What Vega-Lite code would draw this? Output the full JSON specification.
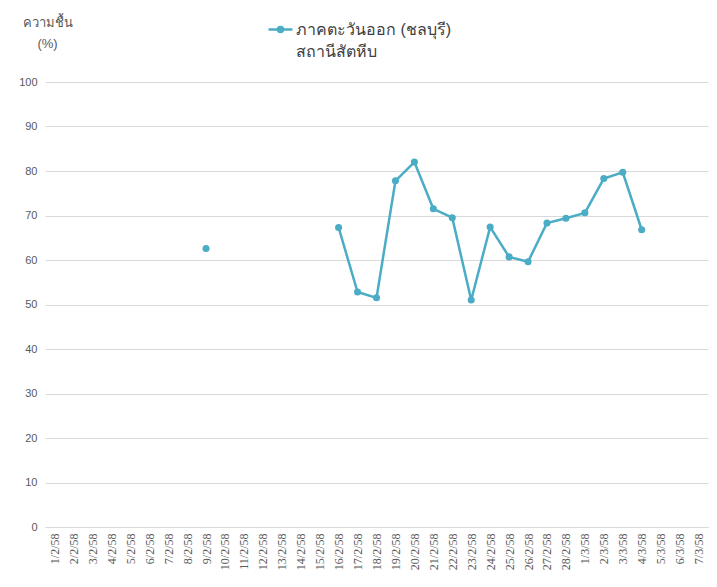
{
  "$schema": "https://vega.github.io/schema/vega-lite/v6.json",
  "autosize": "none",
  "width": 663,
  "height": 445,
  "padding": {"left": 45, "top": 82, "right": 9, "bottom": 60},
  "background": "white",
  "config": {
    "view": {"stroke": null},
    "font": "Liberation Sans",
    "style": {"guide-label": {"lineHeight": 22}}
  },
  "data": {
    "values": [
      {"date": "1/2/58", "series": "ภาคตะวันออก (ชลบุรี)|สถานีสัตหีบ", "rh": null},
      {"date": "2/2/58", "series": "ภาคตะวันออก (ชลบุรี)|สถานีสัตหีบ", "rh": null},
      {"date": "3/2/58", "series": "ภาคตะวันออก (ชลบุรี)|สถานีสัตหีบ", "rh": null},
      {"date": "4/2/58", "series": "ภาคตะวันออก (ชลบุรี)|สถานีสัตหีบ", "rh": null},
      {"date": "5/2/58", "series": "ภาคตะวันออก (ชลบุรี)|สถานีสัตหีบ", "rh": null},
      {"date": "6/2/58", "series": "ภาคตะวันออก (ชลบุรี)|สถานีสัตหีบ", "rh": null},
      {"date": "7/2/58", "series": "ภาคตะวันออก (ชลบุรี)|สถานีสัตหีบ", "rh": null},
      {"date": "8/2/58", "series": "ภาคตะวันออก (ชลบุรี)|สถานีสัตหีบ", "rh": null},
      {"date": "9/2/58", "series": "ภาคตะวันออก (ชลบุรี)|สถานีสัตหีบ", "rh": 62.6},
      {"date": "10/2/58", "series": "ภาคตะวันออก (ชลบุรี)|สถานีสัตหีบ", "rh": null},
      {"date": "11/2/58", "series": "ภาคตะวันออก (ชลบุรี)|สถานีสัตหีบ", "rh": null},
      {"date": "12/2/58", "series": "ภาคตะวันออก (ชลบุรี)|สถานีสัตหีบ", "rh": null},
      {"date": "13/2/58", "series": "ภาคตะวันออก (ชลบุรี)|สถานีสัตหีบ", "rh": null},
      {"date": "14/2/58", "series": "ภาคตะวันออก (ชลบุรี)|สถานีสัตหีบ", "rh": null},
      {"date": "15/2/58", "series": "ภาคตะวันออก (ชลบุรี)|สถานีสัตหีบ", "rh": null},
      {"date": "16/2/58", "series": "ภาคตะวันออก (ชลบุรี)|สถานีสัตหีบ", "rh": 67.3},
      {"date": "17/2/58", "series": "ภาคตะวันออก (ชลบุรี)|สถานีสัตหีบ", "rh": 52.8},
      {"date": "18/2/58", "series": "ภาคตะวันออก (ชลบุรี)|สถานีสัตหีบ", "rh": 51.5},
      {"date": "19/2/58", "series": "ภาคตะวันออก (ชลบุรี)|สถานีสัตหีบ", "rh": 77.8},
      {"date": "20/2/58", "series": "ภาคตะวันออก (ชลบุรี)|สถานีสัตหีบ", "rh": 82.0},
      {"date": "21/2/58", "series": "ภาคตะวันออก (ชลบุรี)|สถานีสัตหีบ", "rh": 71.5},
      {"date": "22/2/58", "series": "ภาคตะวันออก (ชลบุรี)|สถานีสัตหีบ", "rh": 69.5},
      {"date": "23/2/58", "series": "ภาคตะวันออก (ชลบุรี)|สถานีสัตหีบ", "rh": 51.0},
      {"date": "24/2/58", "series": "ภาคตะวันออก (ชลบุรี)|สถานีสัตหีบ", "rh": 67.4},
      {"date": "25/2/58", "series": "ภาคตะวันออก (ชลบุรี)|สถานีสัตหีบ", "rh": 60.7},
      {"date": "26/2/58", "series": "ภาคตะวันออก (ชลบุรี)|สถานีสัตหีบ", "rh": 59.6},
      {"date": "27/2/58", "series": "ภาคตะวันออก (ชลบุรี)|สถานีสัตหีบ", "rh": 68.3},
      {"date": "28/2/58", "series": "ภาคตะวันออก (ชลบุรี)|สถานีสัตหีบ", "rh": 69.4},
      {"date": "1/3/58", "series": "ภาคตะวันออก (ชลบุรี)|สถานีสัตหีบ", "rh": 70.6},
      {"date": "2/3/58", "series": "ภาคตะวันออก (ชลบุรี)|สถานีสัตหีบ", "rh": 78.3},
      {"date": "3/3/58", "series": "ภาคตะวันออก (ชลบุรี)|สถานีสัตหีบ", "rh": 79.7},
      {"date": "4/3/58", "series": "ภาคตะวันออก (ชลบุรี)|สถานีสัตหีบ", "rh": 66.8},
      {"date": "5/3/58", "series": "ภาคตะวันออก (ชลบุรี)|สถานีสัตหีบ", "rh": null},
      {"date": "6/3/58", "series": "ภาคตะวันออก (ชลบุรี)|สถานีสัตหีบ", "rh": null},
      {"date": "7/3/58", "series": "ภาคตะวันออก (ชลบุรี)|สถานีสัตหีบ", "rh": null}
    ]
  },
  "encoding": {
    "x": {
      "field": "date",
      "type": "ordinal",
      "sort": null,
      "scale": {"padding": 0.5},
      "axis": {
        "title": null,
        "labelAngle": -90,
        "labelFont": "Liberation Serif",
        "labelFontSize": 12,
        "labelColor": "#595959",
        "labelPadding": 6,
        "ticks": false,
        "domainColor": "#D9D9D9",
        "grid": false
      }
    },
    "y": {
      "field": "rh",
      "type": "quantitative",
      "scale": {"domain": [0, 100]},
      "axis": {
        "title": ["ความชื้น", "(%)"],
        "titleAngle": 0,
        "titleAlign": "center",
        "titleBaseline": "top",
        "titleX": 2,
        "titleY": -66,
        "titleFontSize": 13,
        "titleFontWeight": "normal",
        "titleColor": "#595959",
        "titleLineHeight": 21,
        "values": [0, 10, 20, 30, 40, 50, 60, 70, 80, 90, 100],
        "labelFontSize": 11,
        "labelColor": "#595959",
        "labelPadding": 8,
        "ticks": false,
        "domain": false,
        "gridColor": "#D9D9D9",
        "gridWidth": 1
      }
    },
    "color": {
      "field": "series",
      "type": "nominal",
      "scale": {"range": ["#4BACC6"]},
      "legend": {
        "title": null,
        "orient": "none",
        "legendX": 222,
        "legendY": -66,
        "labelExpr": "split(datum.label, '|')",
        "labelFontSize": 16,
        "labelColor": "#404040",
        "labelLimit": 400,
        "labelBaseline": "middle",
        "symbolType": "M-1,0H1M-0.21,0A0.21,0.21 0 1,0 0.21,0A0.21,0.21 0 1,0 -0.21,0Z",
        "symbolSize": 576,
        "symbolStrokeWidth": 2.5,
        "symbolFillColor": "#4BACC6",
        "symbolStrokeColor": "#4BACC6",
        "labelOffset": 2
      }
    }
  },
  "layer": [
    {
      "mark": {"type": "line", "strokeWidth": 2.5, "invalid": "break-paths-show-domains"},
      "encoding": {}
    },
    {
      "mark": {"type": "circle", "size": 50, "opacity": 1},
      "encoding": {}
    }
  ]
}
